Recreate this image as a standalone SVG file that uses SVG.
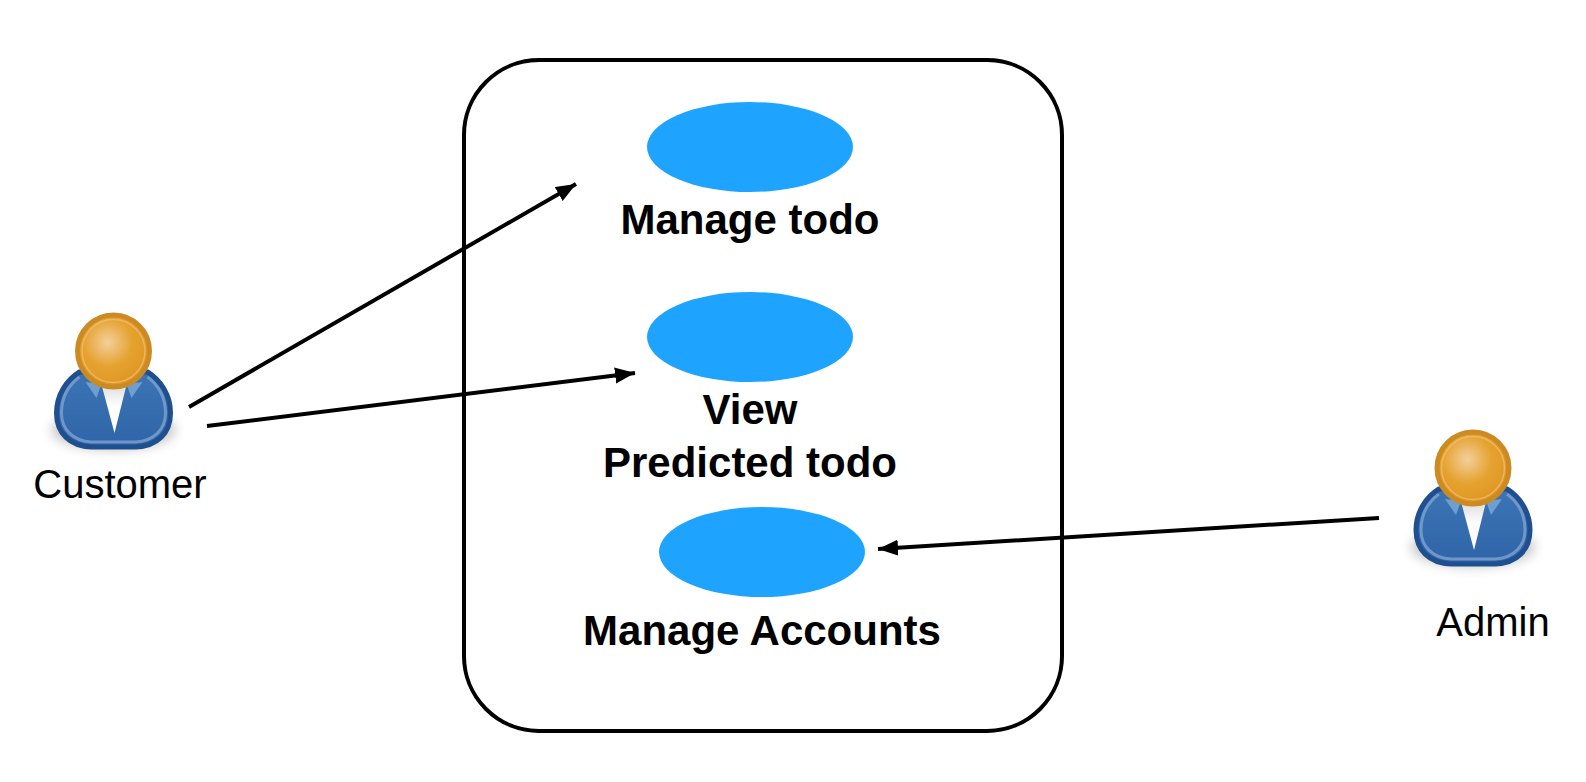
<svg xmlns="http://www.w3.org/2000/svg" width="1586" height="782" viewBox="0 0 1586 782">
<style>
.lbl{font-family:"Liberation Sans",Arial,sans-serif;font-size:42px;font-weight:700;fill:#000;text-anchor:middle}
.act{font-family:"Liberation Sans",Arial,sans-serif;font-size:40px;fill:#000;text-anchor:middle}
.uc{fill:#1ea4ff}
.edge{stroke:#000;stroke-width:4;fill:none;marker-end:url(#arrow)}
</style>
<defs>
<marker id="arrow" markerUnits="userSpaceOnUse" markerWidth="22" markerHeight="18" refX="20" refY="8" orient="auto"><path d="M0 0L20 8L0 16Z" fill="#000"/></marker>
<radialGradient id="head" cx="0.42" cy="0.38" r="0.62"><stop offset="0" stop-color="#f3cf9c"/><stop offset="0.55" stop-color="#e5a22f"/><stop offset="1" stop-color="#df9623"/></radialGradient>
<linearGradient id="body" x1="0" y1="0" x2="0" y2="1"><stop offset="0" stop-color="#3c74b4"/><stop offset="1" stop-color="#2f65a8"/></linearGradient>
<linearGradient id="shirt" x1="0" y1="0" x2="0" y2="1"><stop offset="0" stop-color="#d8d8d8"/><stop offset="0.5" stop-color="#fff"/></linearGradient>
<filter id="soft" x="-30%" y="-60%" width="160%" height="220%"><feGaussianBlur stdDeviation="6"/></filter>
<g id="person">
<ellipse cx="0" cy="79" rx="62" ry="20" fill="#000" opacity="0.22" filter="url(#soft)"/>
<path d="M-34 21C-47 29-57 44-57 62C-57 82-44 95-22 96L22 96C44 95 57 82 57 62C57 44 47 29 34 21Z" fill="url(#body)" stroke="#204f90" stroke-width="5"/>
<path d="M-34 26C-46 35-52 48-52 62C-52 78-41 90-22 91L22 91C41 90 52 78 52 62C52 48 46 35 34 26" fill="none" stroke="#7ea3cf" stroke-width="3" opacity="0.8"/>
<path d="M-13 30L1 82L14 30Z" fill="url(#shirt)"/>
<path d="M-28 31L-12 33L-17 47Z" fill="#6f9fd0"/>
<path d="M29 31L13 33L18 47Z" fill="#6f9fd0"/>
<circle cx="0" cy="0" r="36" fill="url(#head)" stroke="#cc8a22" stroke-width="5"/>
<circle cx="0" cy="0" r="31.5" fill="none" stroke="#f0bc6e" stroke-width="1.5" opacity="0.8"/>
</g>
</defs>
<rect width="1586" height="782" fill="#fff"/>
<g id="system"><rect x="464" y="60" width="598" height="671" rx="75" ry="75" fill="#fff" stroke="#000" stroke-width="4"/></g>
<g id="customer"><use href="#person" x="113.5" y="351"/><text class="act" x="120" y="498">Customer</text></g>
<g id="admin"><use href="#person" x="1473" y="468"/><text class="act" x="1493" y="636">Admin</text></g>
<g id="uc-manage-todo"><ellipse class="uc" cx="750" cy="147" rx="103" ry="45"/><text class="lbl" x="750" y="234">Manage todo</text></g>
<g id="uc-view-predicted"><ellipse class="uc" cx="750" cy="337" rx="103" ry="45"/><text class="lbl" x="750" y="424">View</text><text class="lbl" x="750" y="477">Predicted todo</text></g>
<g id="uc-manage-accounts"><ellipse class="uc" cx="762" cy="552" rx="103" ry="45"/><text class="lbl" x="762" y="645">Manage Accounts</text></g>
<g id="connectors">
<path class="edge" d="M189 407L576 184"/>
<path class="edge" d="M207 426L635 373"/>
<path class="edge" d="M1379 518L878 549"/>
</g>
</svg>
